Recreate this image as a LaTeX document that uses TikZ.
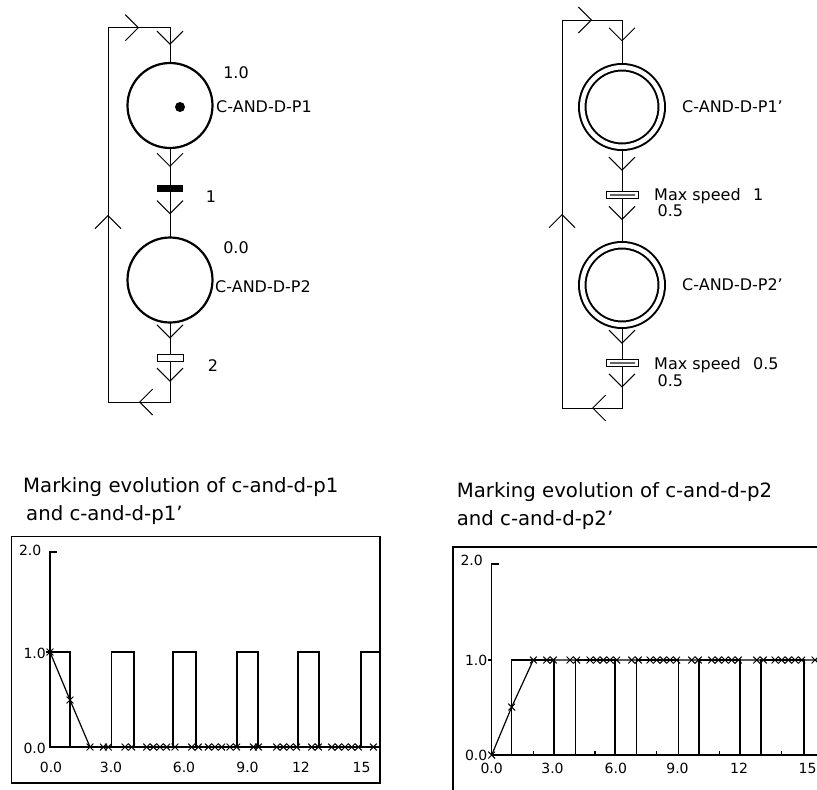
\documentclass[tikz,border=0pt]{standalone}
\usepackage{fontspec}
\setmainfont{DejaVu Sans}
\usetikzlibrary{arrows.meta,decorations.markings}
\begin{document}
\begin{tikzpicture}[x=1pt,y=-1pt,
  midchev/.style={line width=1pt, line cap=rect, postaction={decorate},
    decoration={markings, mark=at position 0.5 with {\arrow{Straight Barb[length=13pt,width=26pt]}}}},
  place/.style={circle, draw, line width=2.2pt, minimum size=85pt, inner sep=0pt},
  dplace/.style={circle, draw, line width=2pt, double, double distance=4.5pt, minimum size=79.5pt, inner sep=0pt, outer sep=4.3pt},
  trblack/.style={rectangle, draw, fill=black, line width=0.8pt, minimum width=25pt, minimum height=6.5pt, inner sep=0pt},
  trwhite/.style={rectangle, draw, fill=white, line width=1pt, minimum width=26pt, minimum height=7pt, inner sep=0pt},
  trspeed/.style={rectangle, draw, fill=white, line width=1pt, minimum width=32pt, minimum height=7.5pt, inner sep=0pt,
    path picture={\fill[black!60] ([xshift=3.5pt,yshift=2.5pt]path picture bounding box.south west) rectangle ([xshift=-3.5pt,yshift=-2.5pt]path picture bounding box.north east);}},
  lab/.style={font=\fontsize{16}{16.7}\selectfont, inner sep=0pt},
  ttl/.style={font=\fontsize{19.7}{27.5}\selectfont, inner sep=0pt, align=left},
  axl/.style={font=\fontsize{14}{14}\selectfont, inner sep=0pt},
  frame/.style={line width=1.2pt},
  curve/.style={line width=1.2pt},
  marks/.style={line width=1pt},
]
\useasboundingbox (0,0) rectangle (817,790);
\fill[white] (0,0) rectangle (817,790);
\clip (0,0) rectangle (817,790);

% ---------- left net ----------
\node[place] (p1) at (170,105.5) {};
\node[circle, fill=black, minimum size=10pt, inner sep=0pt] (tok) at (180,107) {};
\node[trblack] (t1) at (170,188.5) {};
\node[place] (p2) at (170,280) {};
\node[trwhite] (t2) at (170,357.5) {};
\coordinate (lb) at (170,402);
\coordinate (lbl) at (108,402);
\coordinate (ltl) at (108,27.7);
\coordinate (lt) at (170,27.7);
\draw[midchev] (p1) -- (t1);
\draw[midchev] (t1) -- (p2);
\draw[midchev] (p2) -- (t2);
\draw[midchev] (t2) -- (lb);
\draw[midchev] (lb) -- (lbl);
\draw[midchev] (lbl) -- (ltl);
\draw[midchev] (ltl) -- (lt);
\draw[midchev] (lt) -- (p1);
\node[lab] (l10) at (236,73) {1.0};
\node[lab, anchor=west] (lp1) at (216,107) {C-AND-D-P1};
\node[lab] (l1) at (211,197) {1};
\node[lab] (l00) at (236,248) {0.0};
\node[lab, anchor=west] (lp2) at (215,287) {C-AND-D-P2};
\node[lab] (l2) at (213,366) {2};

% ---------- right net ----------
\node[dplace] (q1) at (622,107) {};
\node[trspeed] (u1) at (622,195) {};
\node[dplace] (q2) at (622,285) {};
\node[trspeed] (u2) at (622,363) {};
\coordinate (rb) at (622,408);
\coordinate (rbl) at (562,408);
\coordinate (rtl) at (562,20);
\coordinate (rt) at (622,20);
\draw[midchev] (q1) -- (u1);
\draw[midchev] (u1) -- (q2);
\draw[midchev] (q2) -- (u2);
\draw[midchev] (u2) -- (rb);
\draw[midchev] (rb) -- (rbl);
\draw[midchev] (rbl) -- (rtl);
\draw[midchev] (rtl) -- (rt);
\draw[midchev] (rt) -- (q1);
\node[lab, anchor=west] (lq1) at (682,107) {C-AND-D-P1'};
\node[lab, anchor=base west, align=left] (ls1) at (654,216.7) {\makebox[99pt][l]{Max speed}1\\\hspace*{3.5pt}0.5};
\node[lab, anchor=west] (lq2) at (682,285) {C-AND-D-P2'};
\node[lab, anchor=base west, align=left] (ls2) at (654,386) {\makebox[99pt][l]{Max speed}0.5\\\hspace*{3.5pt}0.5};

% ---------- titles ----------
\node[ttl, anchor=base west] (ti1) at (23,520) {Marking evolution of c-and-d-p1\\\hspace*{3pt}and c-and-d-p1'};
\node[ttl, anchor=base west] (ti2) at (456.7,525) {Marking evolution of c-and-d-p2\\and c-and-d-p2'};

% ---------- chart 1 ----------
\draw[frame] (11.7,536.7) rectangle (380,783);
\draw[frame] (57,552) -- (50,552) -- (50,747) -- (380,747);
\draw[frame] (46,652) -- (50,652);
\node[axl, anchor=east] (a1y2) at (41.5,550) {2.0};
\node[axl, anchor=east] (a1y1) at (46,653) {1.0};
\node[axl, anchor=east] (a1y0) at (46,748) {0.0};
\node[axl] (a1x0) at (51,767) {0.0};
\node[axl] (a1x3) at (111,767) {3.0};
\node[axl] (a1x6) at (184,767) {6.0};
\node[axl] (a1x9) at (247.5,767) {9.0};
\node[axl] (a1x12) at (301,767) {12};
\node[axl] (a1x15) at (361.5,767) {15};
\draw[curve] (50,652) -- (70,652) -- (70,747) -- (111.7,747) -- (111.7,652) -- (134,652) -- (134,747)
  -- (173,747) -- (173,652) -- (196,652) -- (196,747) -- (237,747) -- (237,652) -- (258,652) -- (258,747)
  -- (298,747) -- (298,652) -- (319,652) -- (319,747) -- (361,747) -- (361,652) -- (379.4,652);
\draw[curve] (50,652) -- (70,700) -- (90,747) -- (379.4,747);
\path[draw, marks] plot[mark=x, only marks, mark size=4.8pt] coordinates {(50,652) (70,700) (90,747) (103.3,747) (108.3,747) (125,747) (131.7,747) (146.7,747) (153.3,747) (160,747) (166.7,747) (175,747) (191.7,747) (198.3,747) (208.3,747) (215,747) (221.7,747) (230,747) (236.7,747) (253.3,747) (258.3,747) (276.7,747) (283.3,747) (290,747) (296.7,747) (311.7,747) (318.3,747) (331.7,747) (338.3,747) (345,747) (351.7,747) (358.3,747) (373.3,747)};

% ---------- chart 2 ----------
\draw[frame] (453,547) rectangle (830,800);
\draw[frame] (499,564) -- (491.7,564) -- (491.7,755) -- (830,755);
\draw[frame] (488,660) -- (491.7,660);
\foreach \tx in {533.3,595,656.7,719.3,781.7} \draw[frame] (\tx,755) -- (\tx,751);
\node[axl, anchor=east] (a2y2) at (483,560) {2.0};
\node[axl, anchor=east] (a2y1) at (487.5,660) {1.0};
\node[axl, anchor=east] (a2y0) at (487.5,755) {0.0};
\node[axl] (a2x0) at (491.7,768) {0.0};
\node[axl] (a2x3) at (552.5,768) {3.0};
\node[axl] (a2x6) at (615.8,768) {6.0};
\node[axl] (a2x9) at (677.5,768) {9.0};
\node[axl] (a2x12) at (739,768) {12};
\node[axl] (a2x15) at (807.5,768) {15};
\draw[curve] (491.7,755) -- (511.7,755) -- (511.7,660) -- (554,660) -- (554,755) -- (575.7,755) -- (575.7,660)
  -- (615,660) -- (615,755) -- (636.7,755) -- (636.7,660) -- (678.3,660) -- (678.3,755) -- (699,755) -- (699,660)
  -- (740,660) -- (740,755) -- (761,755) -- (761,660) -- (804,660) -- (804,755) -- (830,755);
\draw[curve] (491.7,755) -- (511.7,707) -- (533.3,660) -- (830,660);
\path[draw, marks] plot[mark=x, only marks, mark size=4.8pt] coordinates {(491.7,755) (511.7,707) (533.3,660) (546.7,660) (553.3,660) (570,660) (576.7,660) (590,660) (596.7,660) (603.3,660) (610,660) (616.7,660) (631.7,660) (638.3,660) (650,660) (656.7,660) (663.3,660) (670,660) (676.7,660) (691.7,660) (698.3,660) (711.7,660) (718.3,660) (725,660) (731.7,660) (738.3,660) (756.7,660) (763.3,660) (775,660) (781.7,660) (788.3,660) (795,660) (801.7,660) (815,660)};
\end{tikzpicture}
\end{document}
